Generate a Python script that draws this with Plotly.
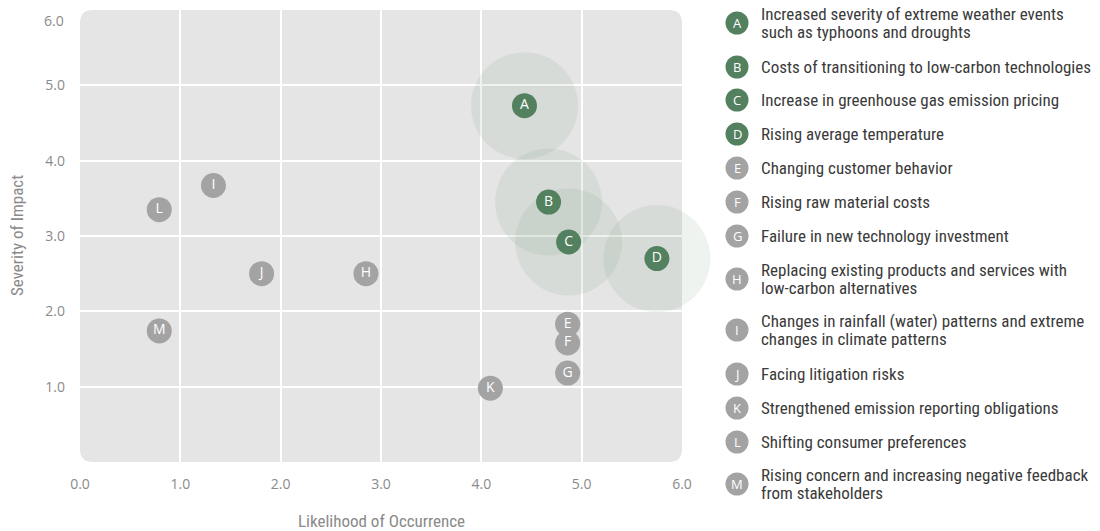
import plotly.graph_objects as go

# ---- data ----
letters = ["A", "B", "C", "D", "E", "F", "G", "H", "I", "J", "K", "L", "M"]
likelihood = [4.43, 4.67, 4.87, 5.75, 4.86, 4.86, 4.86, 2.85, 1.33, 1.81, 4.09, 0.79, 0.79]
severity = [4.73, 3.45, 2.92, 2.70, 1.83, 1.58, 1.18, 2.50, 3.67, 2.50, 0.98, 3.35, 1.74]
is_key = [True, True, True, True, False, False, False, False, False, False, False, False, False]
descriptions = [
    "Increased severity of extreme weather events<br>such as typhoons and droughts",
    "Costs of transitioning to low-carbon technologies",
    "Increase in greenhouse gas emission pricing",
    "Rising average temperature",
    "Changing customer behavior",
    "Rising raw material costs",
    "Failure in new technology investment",
    "Replacing existing products and services with<br>low-carbon alternatives",
    "Changes in rainfall (water) patterns and extreme<br>changes in climate patterns",
    "Facing litigation risks",
    "Strengthened emission reporting obligations",
    "Shifting consumer preferences",
    "Rising concern and increasing negative feedback<br>from stakeholders",
]
tick_vals = [0, 1, 2, 3, 4, 5, 6]
tick_text = ["0.0", "1.0", "2.0", "3.0", "4.0", "5.0", "6.0"]
x_title = "Likelihood of Occurrence"
y_title = "Severity of Impact"

# ---- style / layout constants ----
W, H = 1100, 531
PL, PR, PT, PB = 80, 682, 10, 462   # plot area in pixels
GREEN = "#53805f"
GRAY = "#a3a3a3"
BUBBLE = "rgba(83,128,95,0.095)"
LEGEND_ROWS_PX = [23, 67, 100, 134, 168, 202, 236, 279, 330, 374, 408, 442, 484]
LEG_MARK_X, LEG_TEXT_X = 737, 759
LINE_GAP = 18
NARROW = "Liberation Sans Narrow, Roboto Condensed, Roboto, sans-serif"
TICKFONT = "Open Sans, Lato, sans-serif"
AXIS_GRAY = "#8a8a8a"

def px_to_paper(px, py):
    return (px - PL) / (PR - PL), (PB - py) / (PB - PT)

colors = [GREEN if k else GRAY for k in is_key]

fig = go.Figure()

# big translucent bubbles behind key risks
fig.add_trace(go.Scatter(
    x=[x for x, k in zip(likelihood, is_key) if k],
    y=[y for y, k in zip(severity, is_key) if k],
    mode="markers", cliponaxis=False,
    marker=dict(size=107, color=BUBBLE, line=dict(width=0)),
    hoverinfo="skip", showlegend=False,
))

# lettered points
fig.add_trace(go.Scatter(
    x=likelihood, y=severity, mode="markers+text", cliponaxis=False,
    text=letters, textposition="middle center",
    textfont=dict(color="white", size=14, family=TICKFONT),
    marker=dict(size=25, color=colors, line=dict(width=0)),
    hovertext=[d.replace("<br>", " ") for d in descriptions],
    hoverinfo="text", showlegend=False,
))

# rounded background for the plot area
rx, ry = 13 / (PR - PL), 13 / (PB - PT)
path = (f"M {rx},0 L {1-rx},0 Q 1,0 1,{ry} L 1,{1-ry} Q 1,1 {1-rx},1 "
        f"L {rx},1 Q 0,1 0,{1-ry} L 0,{ry} Q 0,0 {rx},0 Z")
shapes = [dict(type="path", path=path, xref="paper", yref="paper",
               fillcolor="#e5e5e5", line=dict(width=0), layer="below")]

annotations = []
for i, (lt, desc, col) in enumerate(zip(letters, descriptions, colors)):
    py = LEGEND_ROWS_PX[i]
    mx, my = px_to_paper(LEG_MARK_X, py)
    shapes.append(dict(type="circle", xref="paper", yref="paper",
                       xsizemode="pixel", ysizemode="pixel",
                       xanchor=mx, yanchor=my, x0=-11.5, x1=11.5, y0=-11.5, y1=11.5,
                       fillcolor=col, line=dict(width=0)))
    annotations.append(dict(x=mx, y=my, xref="paper", yref="paper", text=lt,
                            showarrow=False, xanchor="center", yanchor="middle",
                            font=dict(color="white", size=13, family=TICKFONT)))
    lines = desc.split("<br>")
    n = len(lines)
    for j, line in enumerate(lines):
        ly = py + (j - (n - 1) / 2) * LINE_GAP
        tx, ty = px_to_paper(LEG_TEXT_X, ly)
        annotations.append(dict(x=tx, y=ty, xref="paper", yref="paper", text=line,
                                showarrow=False, xanchor="left", yanchor="middle",
                                align="left",
                                font=dict(color="#3a3a3a", size=17, family=NARROW)))

# axis titles
tx, ty = px_to_paper((PL + PR) / 2, 521)
annotations.append(dict(x=tx, y=ty, xref="paper", yref="paper", text=x_title,
                        showarrow=False, xanchor="center", yanchor="middle",
                        font=dict(color=AXIS_GRAY, size=17, family=NARROW)))
tx, ty = px_to_paper(17, (PT + PB) / 2)
annotations.append(dict(x=tx, y=ty, xref="paper", yref="paper", text=y_title,
                        showarrow=False, xanchor="center", yanchor="middle",
                        textangle=-90,
                        font=dict(color=AXIS_GRAY, size=17, family=NARROW)))
# top y tick label 6.0 sits just below the upper edge of the plot area
tx, ty = px_to_paper(66, 21)
annotations.append(dict(x=tx, y=ty, xref="paper", yref="paper", text=tick_text[-1],
                        showarrow=False, xanchor="right", yanchor="middle",
                        font=dict(color=AXIS_GRAY, size=14, family=TICKFONT)))

fig.update_layout(
    width=W, height=H,
    margin=dict(l=PL, r=W - PR, t=PT, b=H - PB),
    paper_bgcolor="white", plot_bgcolor="rgba(0,0,0,0)",
    shapes=shapes, annotations=annotations,
    xaxis=dict(range=[0, 6], tickvals=tick_vals, ticktext=tick_text,
               showgrid=True, gridcolor="white", gridwidth=1.5, automargin=False,
               zeroline=False, showline=False, ticks="", ticklabelstandoff=12,
               tickfont=dict(color=AXIS_GRAY, size=14, family=TICKFONT)),
    yaxis=dict(range=[0, 6], tickvals=tick_vals[1:-1], ticktext=tick_text[1:-1],
               showgrid=True, gridcolor="white", gridwidth=1.5, automargin=False,
               zeroline=False, showline=False, ticks="", ticklabelstandoff=14,
               tickfont=dict(color=AXIS_GRAY, size=14, family=TICKFONT)),
    font=dict(family=TICKFONT),
)

fig.write_html("out.html")
